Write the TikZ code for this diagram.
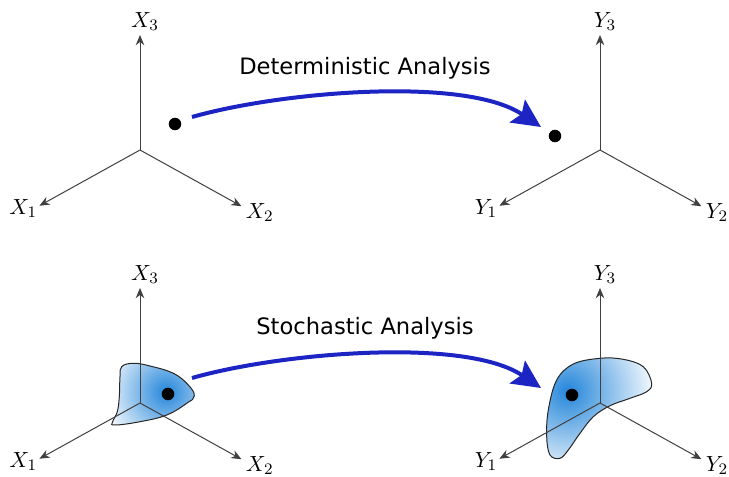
\documentclass[tikz,border=0pt]{standalone}
\usepackage{fontspec}
\newfontfamily\annfont{DejaVu Sans}
\usetikzlibrary{arrows.meta,positioning}
\definecolor{cFlow}{RGB}{28,36,196}
\definecolor{cBlob}{RGB}{36,134,218}

\begin{document}
\begin{tikzpicture}[x=0.5pt, y=0.5pt,
  ax/.style={-{Stealth[length=1.8mm, width=1.5mm]}, line width=0.5pt, draw=black!75},
  lab/.style={inner sep=1pt, font=\fontsize{11}{13}\selectfont},
  pt/.style={circle, fill=black, inner sep=0pt, minimum size=2.2mm},
  flow/.style={-{Stealth[length=5mm, width=4.8mm, inset=0.9mm]}, line width=2pt, draw=cFlow},
  ttl/.style={font=\annfont\fontsize{11.3}{13}\selectfont},
  blob/.style={draw=black!85, line width=0.5pt}]
\useasboundingbox (0,0) rectangle (729,477);

% axis origins and points
\coordinate (A0) at (140,327);
\coordinate (B0) at (600,327);
\coordinate (C0) at (140,74);
\coordinate (D0) at (600,74);
\coordinate (cC) at (166,85);
\coordinate (cD) at (568,86);

% uncertainty regions
\path[blob, path picture={\shade[inner color=cBlob, outer color=white] (cC) circle (33pt);}]
  plot[smooth cycle, tension=0.7] coordinates {(121.7,110.3) (133.3,113.7) (150,111)
    (173.3,103.7) (188.3,92) (194.3,81) (186.7,73.7) (166.7,62) (140,55.3) (115,52)
    (112.7,55.3) (117.3,65.3) (119.3,80.3) (120,100.3)};
\path[blob, path picture={\shade[inner color=cBlob, outer color=white] (cD) circle (45pt);}]
  plot[smooth cycle, tension=0.6] coordinates {(600,118.7) (623.3,117.7) (643.3,110.3)
    (651.7,93.7) (646.7,85.3) (630,78.7) (610,71.3) (593.3,60.3) (580,43.7) (568.3,27)
    (560,18.7) (550,22) (546.7,40.3) (548.3,67) (556.7,97) (573.3,113)};

% axes
\foreach \p/\v in {A/X, B/Y, C/X, D/Y} {
  \path (\p0) ++(90:115) coordinate (\p3)
        (\p0) ++(209:115) coordinate (\p1)
        (\p0) ++(331:116) coordinate (\p2);
  \draw[ax] (\p0) -- (\p1);
  \draw[ax] (\p0) -- (\p2);
  \draw[ax] (\p0) -- (\p3);
  \node[lab, above=1pt of \p3, xshift=2.5pt] (l\p3) {$\v_3$};
  \node[lab, left=0pt of \p1, yshift=-1.5pt] (l\p1) {$\v_1$};
  \node[lab, right=1pt of \p2, yshift=-3pt] (l\p2) {$\v_2$};
}

\node[pt] (dA) at (175,353) {};
\node[pt] (dB) at (555,341) {};
\node[pt] (dC) at (168,83) {};
\node[pt] (dD) at (572,82) {};

% mappings
\coordinate (s1) at (192,360);
\coordinate (e1) at (541,350);
\coordinate (s2) at (192,99);
\coordinate (e2) at (541,89);
\draw[flow] (s1) to[out=16, in=146, looseness=0.67] (e1);
\draw[flow] (s2) to[out=16, in=146, looseness=0.67] (e2);
\node[ttl] (tDet) at (365,408.5) {Deterministic Analysis};
\node[ttl] (tSto) at (365,148.5) {Stochastic Analysis};
\end{tikzpicture}
\end{document}
